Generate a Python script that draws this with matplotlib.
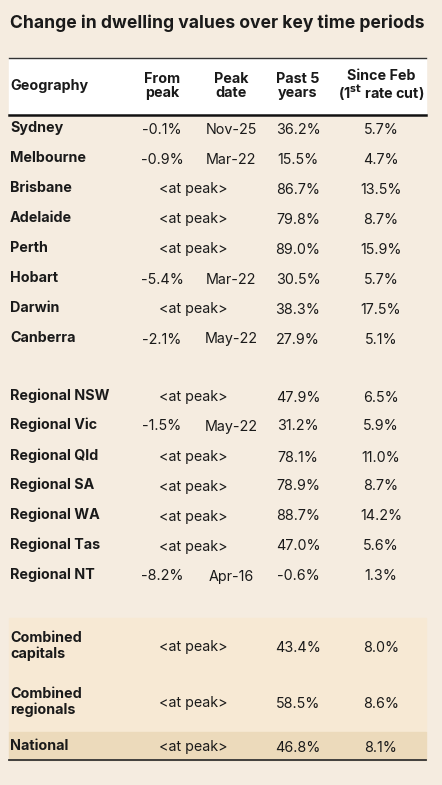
import matplotlib.pyplot as plt
from matplotlib.patches import Rectangle

geographies = ["Sydney","Melbourne","Brisbane","Adelaide","Perth","Hobart","Darwin","Canberra",
               "Regional NSW","Regional Vic","Regional Qld","Regional SA","Regional WA","Regional Tas","Regional NT",
               "Combined\ncapitals","Combined\nregionals","National"]
from_peak = ["-0.1%","-0.9%",None,None,None,"-5.4%",None,"-2.1%",
             None,"-1.5%",None,None,None,None,"-8.2%",None,None,None]
peak_date = ["Nov-25","Mar-22",None,None,None,"Mar-22",None,"May-22",
             None,"May-22",None,None,None,None,"Apr-16",None,None,None]
past_5_years = ["36.2%","15.5%","86.7%","79.8%","89.0%","30.5%","38.3%","27.9%",
                "47.9%","31.2%","78.1%","78.9%","88.7%","47.0%","-0.6%","43.4%","58.5%","46.8%"]
since_feb = ["5.7%","4.7%","13.5%","8.7%","15.9%","5.7%","17.5%","5.1%",
             "6.5%","5.9%","11.0%","8.7%","14.2%","5.6%","1.3%","8.0%","8.6%","8.1%"]
row_y = [128,158,188,218,248,278,308,338,396,425,456,485,515,545,575,646,702,746]

W, H = 442, 785
bg = "#f5ece0"
fig = plt.figure(figsize=(W/100, H/100), dpi=100, facecolor=bg)
ax = fig.add_axes([0,0,1,1])
ax.set_xlim(0, W); ax.set_ylim(H, 0); ax.axis("off")
fam = ["Inter", "DejaVu Sans"]
tc = "#1a1a1a"
fs = 10.3

ax.text(10, 23, "Change in dwelling values over key time periods", fontsize=12.6,
        fontweight="bold", va="center", ha="left", family=fam, color=tc)
ax.add_patch(Rectangle((9, 58), 417, 57, color="white", zorder=0))
ax.add_patch(Rectangle((9, 618), 417, 114, color="#f7e9d4", zorder=0))
ax.add_patch(Rectangle((9, 732), 417, 28, color="#ecdabb", zorder=0))
ax.plot([9, 426], [58, 58], color="#333", lw=1)
ax.plot([9, 426], [115, 115], color="#111", lw=1.8)
ax.plot([9, 426], [760, 760], color="#333", lw=1.3)

hy = 86
ax.text(10, hy, "Geography", fontsize=fs, fontweight="bold", va="center", family=fam, color=tc)
for x, s in [(162, "From\npeak"), (231, "Peak\ndate"), (298, "Past 5\nyears")]:
    ax.text(x, hy, s, fontsize=fs, fontweight="bold", va="center", ha="center",
            family=fam, color=tc, linespacing=1.05)
ax.text(381, hy, "Since Feb\n(1$^{\\mathbf{st}}$ rate cut)", fontsize=fs, fontweight="bold",
        va="center", ha="center", family=fam, color=tc, linespacing=1.05)

for g, fp, pd_, p5, sf, y in zip(geographies, from_peak, peak_date, past_5_years, since_feb, row_y):
    ax.text(10, y, g, fontsize=fs, fontweight="bold", va="center", family=fam, color=tc, linespacing=1.05)
    kw = dict(fontsize=fs, va="center_baseline", ha="center", family=fam, color=tc)
    if fp is None:
        ax.text(193, y, "<at peak>", **kw)
    else:
        ax.text(162, y, fp, **kw)
        ax.text(231, y, pd_, **kw)
    ax.text(298, y, p5, **kw)
    ax.text(381, y, sf, **kw)

fig.savefig("out.png", dpi=100, facecolor=bg)
